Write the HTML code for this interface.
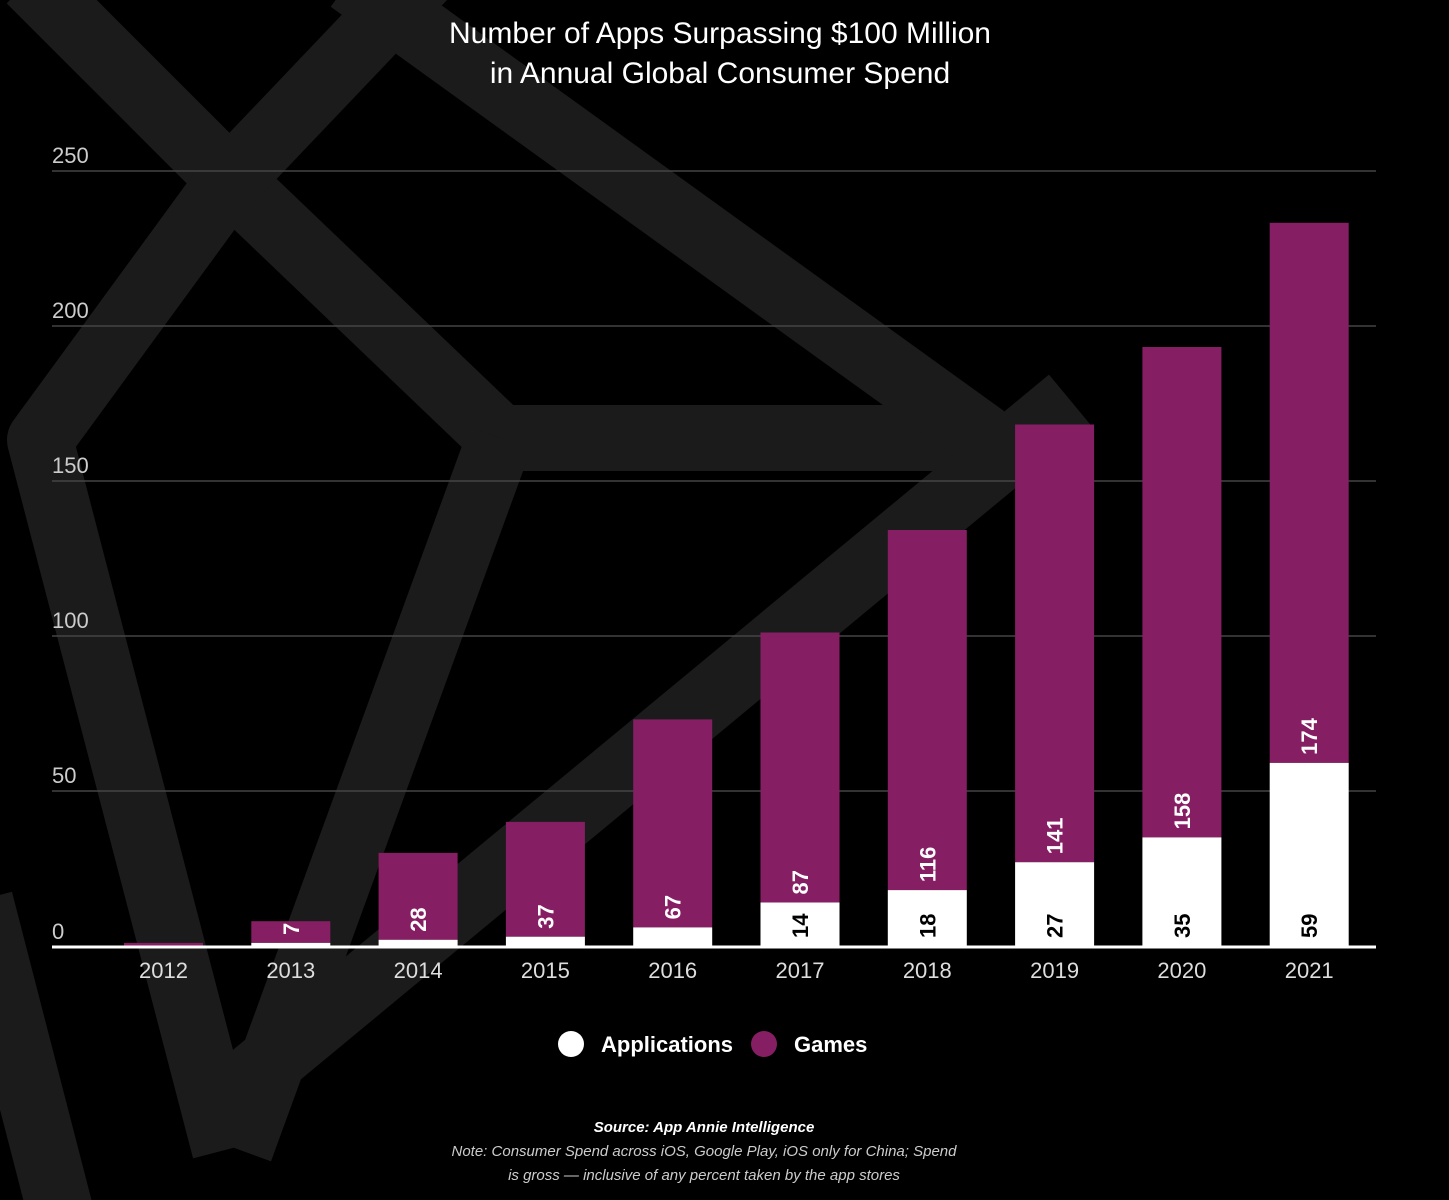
<!DOCTYPE html><html><head><style>body{margin:0;background:#000;}svg{display:block}</style></head><body>
<svg width="1449" height="1200" xmlns="http://www.w3.org/2000/svg" font-family="Liberation Sans, sans-serif">
<rect width="1449" height="1200" fill="#000"/>
<g stroke="#1b1b1b" stroke-width="66" fill="none" stroke-linejoin="round" stroke-linecap="butt">
<polyline points="30,-20 230,180 500,438 965,438"/>
<polyline points="430,-30 230,180 40,440 225,1150"/>
<polyline points="500,438 240,1150"/>
<polyline points="350,-20 985,438"/>
<polyline points="1070,400 200,1120"/>
<polyline points="-20,900 60,1210"/>
</g>
<g fill="#fff" font-size="30" text-anchor="middle"><text x="720" y="43">Number of Apps Surpassing $100 Million</text><text x="720" y="83">in Annual Global Consumer Spend</text></g>
<g stroke="#444" stroke-width="1.5"><line x1="52" x2="1376" y1="171" y2="171"/><line x1="52" x2="1376" y1="326" y2="326"/><line x1="52" x2="1376" y1="481" y2="481"/><line x1="52" x2="1376" y1="636" y2="636"/><line x1="52" x2="1376" y1="791" y2="791"/></g>
<g fill="#ccc" font-size="22"><text x="52" y="163">250</text><text x="52" y="318">200</text><text x="52" y="473">150</text><text x="52" y="628">100</text><text x="52" y="783">50</text><text x="52" y="939">0</text></g>
<g fill="#861e63">
<rect x="124" y="942.9" width="79" height="3.1"/>
<rect x="251.3" y="921.2" width="79" height="21.7"/>
<rect x="378.6" y="852.9" width="79" height="86.9"/>
<rect x="505.9" y="821.9" width="79" height="114.8"/>
<rect x="633.2" y="719.4" width="79" height="208"/>
<rect x="760.5" y="632.5" width="79" height="270"/>
<rect x="887.8" y="530" width="79" height="360.1"/>
<rect x="1015.1" y="424.5" width="79" height="437.7"/>
<rect x="1142.4" y="347" width="79" height="490.4"/>
<rect x="1269.7" y="222.8" width="79" height="540.1"/>
</g>
<g fill="#fff">
<rect x="251.3" y="942.9" width="79" height="3.1"/>
<rect x="378.6" y="939.8" width="79" height="6.2"/>
<rect x="505.9" y="936.7" width="79" height="9.3"/>
<rect x="633.2" y="927.4" width="79" height="18.6"/>
<rect x="760.5" y="902.5" width="79" height="43.5"/>
<rect x="887.8" y="890.1" width="79" height="55.9"/>
<rect x="1015.1" y="862.2" width="79" height="83.8"/>
<rect x="1142.4" y="837.4" width="79" height="108.6"/>
<rect x="1269.7" y="762.9" width="79" height="183.1"/>
</g>
<g fill="#fff" font-size="22" font-weight="bold">
<text transform="translate(298.8,935) rotate(-90)">7</text>
<text transform="translate(426.1,931.8) rotate(-90)">28</text>
<text transform="translate(553.4,928.7) rotate(-90)">37</text>
<text transform="translate(680.7,919.4) rotate(-90)">67</text>
<text transform="translate(808,894.5) rotate(-90)">87</text>
<text transform="translate(935.3,882.1) rotate(-90)">116</text>
<text transform="translate(1062.6,854.2) rotate(-90)">141</text>
<text transform="translate(1189.9,829.4) rotate(-90)">158</text>
<text transform="translate(1317.2,754.9) rotate(-90)">174</text>
</g>
<g fill="#000" font-size="22" font-weight="bold">
<text transform="translate(808,938) rotate(-90)">14</text>
<text transform="translate(935.3,938) rotate(-90)">18</text>
<text transform="translate(1062.6,938) rotate(-90)">27</text>
<text transform="translate(1189.9,938) rotate(-90)">35</text>
<text transform="translate(1317.2,938) rotate(-90)">59</text>
</g>
<line x1="52" x2="1376" y1="947" y2="947" stroke="#fff" stroke-width="3"/>
<g fill="#ddd" font-size="22" text-anchor="middle">
<text x="163.5" y="978">2012</text><text x="290.8" y="978">2013</text><text x="418.1" y="978">2014</text><text x="545.4" y="978">2015</text><text x="672.7" y="978">2016</text><text x="800" y="978">2017</text><text x="927.3" y="978">2018</text><text x="1054.6" y="978">2019</text><text x="1181.9" y="978">2020</text><text x="1309.2" y="978">2021</text>
</g>
<circle cx="571" cy="1044" r="13" fill="#fff"/><text x="601" y="1052" fill="#fff" font-size="22" font-weight="bold">Applications</text>
<circle cx="764" cy="1044" r="13" fill="#861e63"/><text x="794" y="1052" fill="#fff" font-size="22" font-weight="bold">Games</text>
<g fill="#ccc" font-size="15" font-style="italic" text-anchor="middle"><text x="704" y="1132" font-weight="bold" fill="#fff">Source: App Annie Intelligence</text><text x="704" y="1156">Note: Consumer Spend across iOS, Google Play, iOS only for China; Spend</text><text x="704" y="1180">is gross — inclusive of any percent taken by the app stores</text></g>
</svg></body></html>
